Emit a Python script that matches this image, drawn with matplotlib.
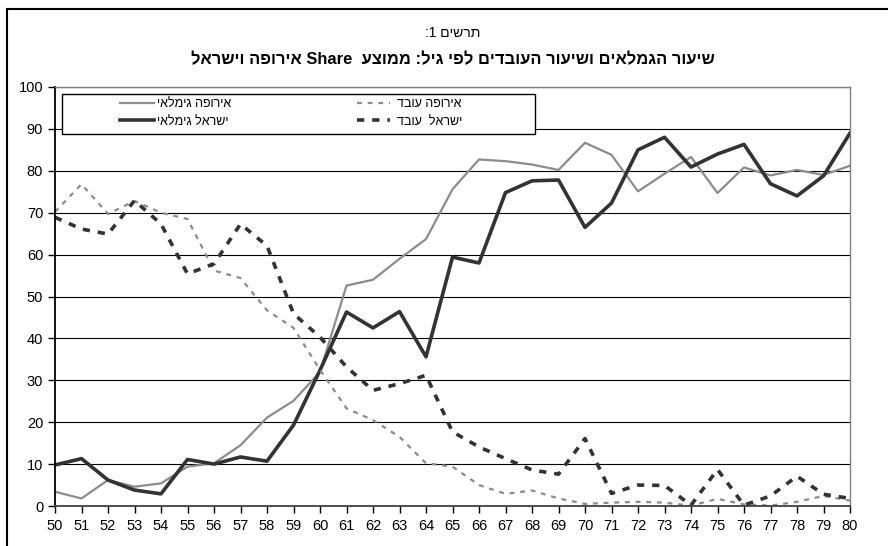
"""
Retirement and employment rates by age, SHARE Europe vs Israel
"""

import re
import matplotlib
matplotlib.use("Agg")
import matplotlib.pyplot as plt
from matplotlib.patches import Rectangle

plt.rcParams["font.family"] = ["Liberation Sans", "DejaVu Sans"]

ages = list(range(50, 81))

europe_retired = [3.4, 1.8, 6.2, 4.6, 5.4, 9.4, 10.2, 14.5, 21.1, 25.1, 32.0,
                  52.6, 54.0, 59.0, 63.7, 75.6, 82.7, 82.3, 81.5, 80.2, 86.7,
                  83.8, 75.1, 79.3, 83.3, 74.7, 80.8, 78.9, 80.2, 79.0, 81.2]
israel_retired = [9.8, 11.3, 6.2, 3.8, 2.9, 11.1, 10.0, 11.7, 10.7, 19.3, 32.4,
                  46.3, 42.5, 46.4, 35.6, 59.4, 58.0, 74.8, 77.6, 77.8, 66.5,
                  72.3, 85.0, 88.0, 80.9, 84.0, 86.3, 76.9, 74.0, 78.8, 89.0]
europe_working = [70.2, 76.8, 69.7, 72.8, 70.0, 68.5, 56.2, 54.4, 46.7, 42.5, 32.5,
                  23.3, 20.5, 16.5, 10.2, 9.4, 5.0, 2.9, 3.7, 1.8, 0.5,
                  0.8, 1.0, 0.8, 0.1, 1.7, 0.4, 0.1, 1.0, 2.4, 1.3]
israel_working = [68.9, 66.1, 64.9, 72.9, 67.3, 55.4, 57.8, 67.3, 62.1, 45.9, 40.3,
                  33.2, 27.6, 29.2, 31.2, 17.7, 14.1, 11.3, 8.6, 7.6, 16.1,
                  3.0, 5.0, 4.9, 0.2, 8.7, 0.2, 2.4, 7.1, 2.8, 1.8]

title_top = "תרשים 1:"
title_main = "שיעור הגמלאים ושיעור העובדים לפי גיל: ממוצע  Share אירופה וישראל"
labels = ["אירופה גימלאי", "ישראל גימלאי", "אירופה עובד", "ישראל  עובד"]


def visual(text):
    # no bidi in matplotlib: lay the line out right to left by hand,
    # keeping latin words and numbers in their own order
    flipped = text[::-1]
    return re.sub(r"[A-Za-z0-9]+", lambda m: m.group(0)[::-1], flipped)


GRAY = "#8c8c8c"
DARK = "#333333"

fig = plt.figure(figsize=(8.88, 5.46), dpi=100)
ax = fig.add_axes([55 / 888, 1 - 506 / 546, 795 / 888, 419 / 546])


def ax_x(px):
    return (px - 55) / 795


def ax_y(py):
    return (506 - py) / 419


# outer chart border (left and top visible, the rest is cut off)
fig.patches.append(Rectangle((7 / 888, -0.1), 1.2, 1 - 9 / 546 + 0.1,
                             transform=fig.transFigure, fill=False,
                             edgecolor="black", linewidth=1.5))

l1, = ax.plot(ages, europe_retired, color=GRAY, lw=1.6, label=visual(labels[0]))
l2, = ax.plot(ages, israel_retired, color=DARK, lw=2.6, label=visual(labels[1]))
l3, = ax.plot(ages, europe_working, color=GRAY, lw=1.6, dashes=(2.2, 2.6),
              label=visual(labels[2]))
l4, = ax.plot(ages, israel_working, color=DARK, lw=2.6, dashes=(2.0, 2.2),
              label=visual(labels[3]))

ax.set_xlim(50, 80)
ax.set_ylim(0, 100)
ax.set_xticks(ages)
ax.set_yticks(range(0, 101, 10))
ax.yaxis.grid(True, color="black", lw=0.8)
ax.set_axisbelow(True)
ax.tick_params(direction="out", length=5, width=1, labelsize=10.5, colors="black")
ax.tick_params(axis="x", pad=4)

for side in ["top", "right"]:
    ax.spines[side].set_color("#808080")
    ax.spines[side].set_linewidth(1)
ax.spines["left"].set_linewidth(1.3)
ax.spines["bottom"].set_linewidth(1.3)
ax.spines["bottom"].set_color("#404040")

# legend frame
ax.add_patch(Rectangle((ax_x(62), ax_y(134)), ax_x(535) - ax_x(62),
                       ax_y(94) - ax_y(134), transform=ax.transAxes,
                       facecolor="white", edgecolor="black", lw=1, zorder=3))

leg1 = ax.legend(handles=[l1, l2], loc="upper left", frameon=False,
                 bbox_to_anchor=(ax_x(120), ax_y(98)), borderaxespad=0,
                 handlelength=2.75, handletextpad=0.2, labelspacing=0.45,
                 borderpad=0, fontsize=9)
leg1.set_zorder(4)
ax.add_artist(leg1)
leg2 = ax.legend(handles=[l3, l4], loc="upper left", frameon=False,
                 bbox_to_anchor=(ax_x(357), ax_y(98)), borderaxespad=0,
                 handlelength=2.65, handletextpad=0.55, labelspacing=0.45,
                 borderpad=0, fontsize=9)
leg2.set_zorder(4)

ax.text(0.5, ax_y(33), visual(title_top), transform=ax.transAxes,
        ha="center", va="center", fontsize=10)
ax.text(0.5, ax_y(60), visual(title_main), transform=ax.transAxes,
        ha="center", va="center", fontsize=11.9, fontweight="bold")

plt.savefig("out.png", dpi=100)
